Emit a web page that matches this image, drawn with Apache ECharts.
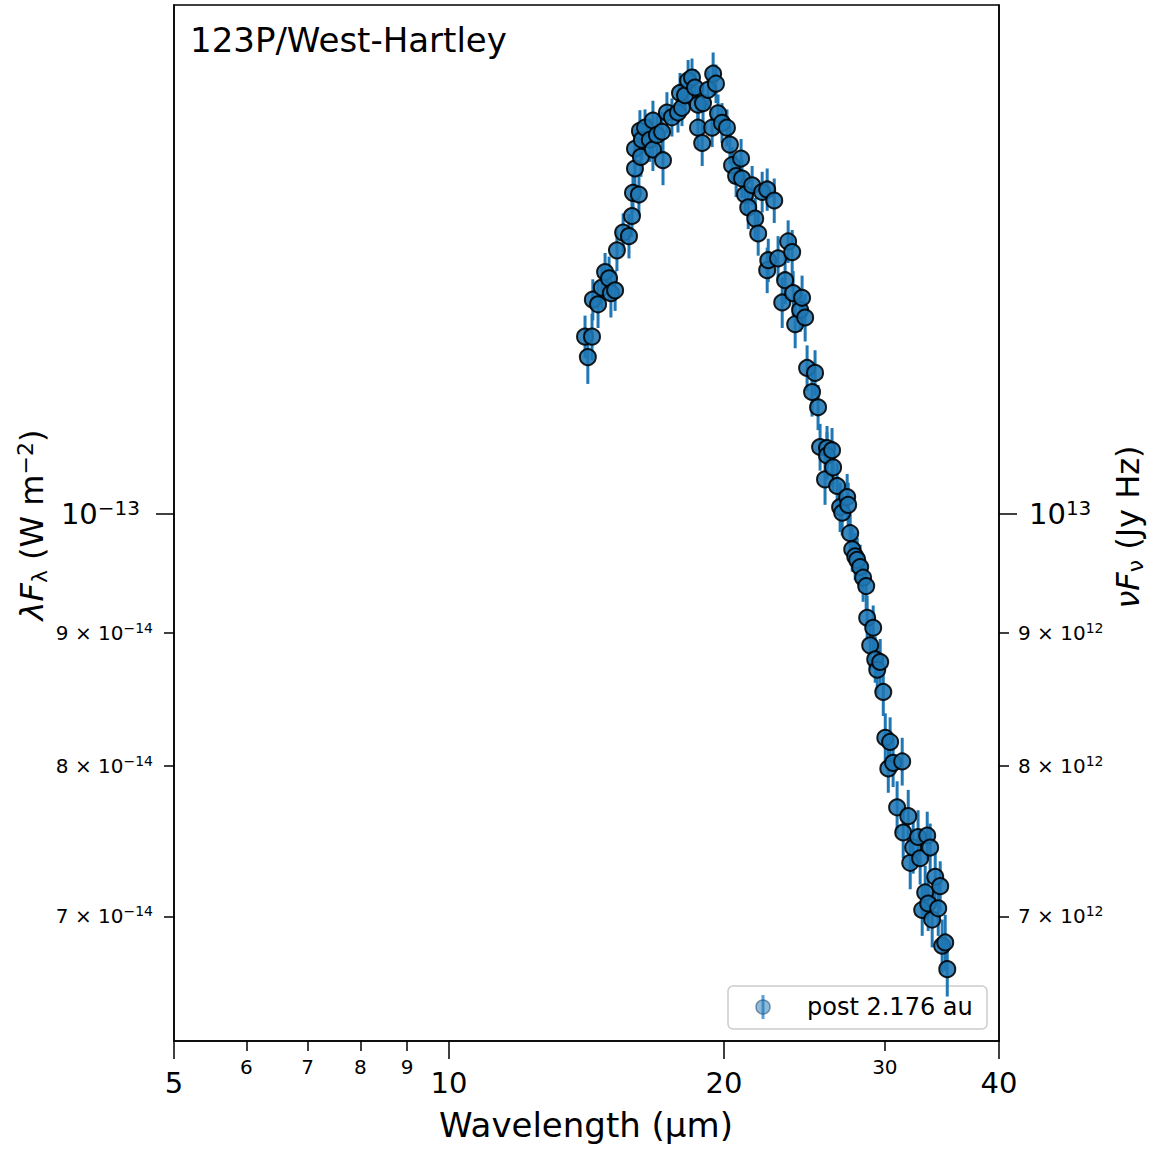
<!DOCTYPE html>
<html><head><meta charset="utf-8">
<script src="https://cdn.jsdelivr.net/npm/echarts@6/dist/echarts.min.js"></script>
<style>html,body{margin:0;padding:0;background:#fff}#c{width:1154px;height:1150px}</style>
</head><body><div id="c"></div>
<script>
// ---- data ----
const titleText = '123P/West-Hartley';
const seriesName = 'post 2.176 au';
const FLUX_UNIT = 1e-14; // flux values below are in units of 1e-14 W m^-2
const wavelength = [14.09,14.34,14.19,14.37,14.56,14.70,14.82,14.97,15.04,15.20,15.27,15.51,15.74,15.86,15.90,15.98,15.98,16.14,16.18,16.22,16.26,16.39,16.59,16.72,16.72,16.89,17.11,17.15,17.32,17.54,17.81,17.99,17.90,18.13,18.27,18.45,18.59,18.73,18.73,18.93,18.97,19.21,19.41,19.46,19.60,19.70,19.90,20.15,20.30,20.41,20.62,20.88,20.93,21.09,21.26,21.47,21.64,21.80,22.02,22.30,22.70,22.30,22.36,22.92,23.33,23.51,23.75,23.16,23.81,23.93,24.23,24.35,24.54,24.66,24.97,25.16,25.35,25.48,25.80,25.93,25.93,26.26,26.33,26.60,26.80,26.94,27.28,27.35,27.49,27.63,27.84,27.98,28.19,28.40,28.62,28.69,28.91,29.13,29.28,29.43,29.65,29.88,30.03,30.26,30.40,30.63,30.94,31.34,31.42,31.82,31.98,32.22,32.62,32.79,32.96,33.21,33.38,33.46,33.63,33.80,34.06,34.32,34.49,34.66,34.93,35.11];
const flux = [11.70,11.70,11.49,12.09,12.04,12.22,12.39,12.32,12.16,12.19,12.63,12.83,12.79,13.02,13.29,13.58,13.82,13.27,14.04,13.72,13.93,14.08,13.93,14.17,13.81,13.99,14.03,13.68,14.27,14.21,14.27,14.33,14.52,14.49,14.68,14.72,14.59,14.37,14.08,13.89,14.39,14.56,14.08,14.77,14.64,14.26,14.14,14.08,13.87,13.62,13.49,13.70,13.46,13.27,13.12,13.38,12.99,12.82,13.30,13.33,13.20,12.41,12.52,12.54,12.30,12.73,12.61,12.06,12.16,11.83,11.98,12.11,11.90,11.38,11.14,11.33,10.99,10.61,10.31,10.60,10.53,10.58,10.42,10.25,10.06,10.01,10.15,10.08,9.83,9.69,9.63,9.60,9.54,9.45,9.38,9.12,8.90,9.04,8.79,8.71,8.77,8.54,8.20,7.98,8.17,8.02,7.71,8.03,7.54,7.65,7.34,7.44,7.51,7.37,7.04,7.15,7.52,7.08,7.44,6.98,7.25,7.05,7.19,6.82,6.84,6.68];
const fluxErr = [0.22,0.24,0.27,0.22,0.25,0.23,0.21,0.24,0.26,0.22,0.23,0.22,0.25,0.24,0.23,0.26,0.24,0.25,0.26,0.24,0.25,0.23,0.27,0.25,0.26,0.24,0.25,0.30,0.26,0.24,0.25,0.23,0.26,0.24,0.27,0.25,0.24,0.25,0.26,0.28,0.24,0.25,0.24,0.28,0.25,0.24,0.25,0.23,0.24,0.22,0.25,0.24,0.23,0.24,0.25,0.23,0.24,0.25,0.24,0.25,0.26,0.25,0.24,0.25,0.26,0.24,0.25,0.27,0.24,0.25,0.23,0.24,0.25,0.23,0.24,0.23,0.22,0.22,0.23,0.21,0.22,0.21,0.22,0.21,0.22,0.20,0.21,0.20,0.20,0.19,0.20,0.19,0.19,0.20,0.19,0.18,0.19,0.18,0.18,0.19,0.18,0.18,0.18,0.17,0.18,0.17,0.18,0.17,0.17,0.18,0.17,0.17,0.18,0.17,0.16,0.17,0.16,0.17,0.16,0.17,0.16,0.17,0.16,0.16,0.17,0.16];
const xMajorTicks = [5, 10, 20, 40];
const xMinorTicks = [6, 7, 8, 9, 30];
const yMajorTicks = [1e-13];
const yMinorTicks = [7e-14, 8e-14, 9e-14];
const xRange = [5, 40];
const yRange = [6.268e-14, 1.5697e-13];
const WM2_TO_JYHZ = 1e26;

// ---- chart ----
const FONT = '"DejaVu Sans", sans-serif';
const chart = echarts.init(document.getElementById('c'), null, {renderer: 'svg'});

const points = wavelength.map((w, i) => [w, flux[i] * FLUX_UNIT, fluxErr[i] * FLUX_UNIT]);

function sciLabel(v, factor, major) {
  let val = v * factor;
  let exp = Math.floor(Math.log10(val) + 1e-6);
  let m = Math.round(val / Math.pow(10, exp));
  const es = (exp < 0 ? '\u2212' : '') + Math.abs(exp);
  if (major) return '{b|10}{e|' + es + '}';
  return '{m|' + m + ' \u00d7 10}{s|' + es + '}';
}
const richStyles = {
  b: {fontSize: 29, fontFamily: FONT, color: '#000', lineHeight: 32},
  e: {fontSize: 20, fontFamily: FONT, color: '#000', lineHeight: 20, verticalAlign: 'top'},
  m: {fontSize: 20, fontFamily: FONT, color: '#000', lineHeight: 24},
  s: {fontSize: 14, fontFamily: FONT, color: '#000', lineHeight: 14, verticalAlign: 'top'}
};
const axisLineStyle = {color: '#000', width: 1.5};

function xAxisDef(ticks, major) {
  return {
    type: 'log', logBase: 10, min: xRange[0], max: xRange[1], gridIndex: 0, position: 'bottom',
    axisLine: {show: major, lineStyle: axisLineStyle},
    axisTick: {show: true, customValues: ticks, length: major ? 18 : 10, lineStyle: {color: '#000', width: 1.5}},
    axisLabel: {show: true, customValues: ticks, fontSize: major ? 29 : 20, fontFamily: FONT, color: '#000',
      margin: major ? 27 : 16,
      formatter: v => String(Math.round(v))},
    splitLine: {show: false}, minorTick: {show: false}, minorSplitLine: {show: false}
  };
}
function yAxisDef(ticks, major, side) {
  const factor = side === 'right' ? WM2_TO_JYHZ : 1;
  let margin;
  if (side === 'left') margin = major ? 34 : 21; else margin = major ? 30 : 19;
  return {
    type: 'log', logBase: 10, min: yRange[0], max: yRange[1], gridIndex: 0, position: side,
    axisLine: {show: major, lineStyle: axisLineStyle},
    axisTick: {show: true, customValues: ticks, length: major ? 18 : 10, lineStyle: {color: '#000', width: 1.5}},
    axisLabel: {show: true, customValues: ticks, margin: margin,
      formatter: v => sciLabel(v, factor, major), rich: richStyles},
    splitLine: {show: false}, minorTick: {show: false}, minorSplitLine: {show: false}
  };
}

const option = {
  backgroundColor: '#fff',
  animation: false,
  grid: {left: 174, top: 5, width: 825, height: 1036, show: true, borderColor: '#000', borderWidth: 1.5,
    containLabel: false, outerBoundsMode: 'none'},
  xAxis: [xAxisDef(xMajorTicks, true), xAxisDef(xMinorTicks, false)],
  yAxis: [yAxisDef(yMajorTicks, true, 'left'), yAxisDef(yMinorTicks, false, 'left'),
          yAxisDef(yMajorTicks, true, 'right'), yAxisDef(yMinorTicks, false, 'right')],
  series: [
    {
      type: 'custom', name: seriesName + ' error', xAxisIndex: 0, yAxisIndex: 0, data: points,
      encode: {x: 0, y: 1}, z: 2, clip: true, silent: true,
      renderItem: function (params, api) {
        const x = api.value(0), y = api.value(1), e = api.value(2);
        const p1 = api.coord([x, y - e]);
        const p2 = api.coord([x, y + e]);
        return {type: 'line', shape: {x1: p1[0], y1: p1[1], x2: p2[0], y2: p2[1]},
          style: {stroke: '#1f77b4', lineWidth: 3}};
      }
    },
    {
      type: 'scatter', name: seriesName, xAxisIndex: 0, yAxisIndex: 0, z: 3,
      data: points.map(p => [p[0], p[1]]),
      symbol: 'circle', symbolSize: 16,
      itemStyle: {color: '#1f77b4', borderColor: '#000', borderWidth: 2, opacity: 0.88}
    }
  ],
  graphic: [
    {type: 'text', left: 190, top: 23, style: {text: titleText, font: '34px ' + FONT, fill: '#000'}},
    {type: 'text', x: 586, y: 1125, style: {text: 'Wavelength (\u00b5m)', font: '34px ' + FONT, fill: '#000', textAlign: 'center', textVerticalAlign: 'middle'}},
    {type: 'text', x: 32, y: 525, rotation: Math.PI / 2,
      style: {text: '{i|\u03bbF}{sub|\u03bb}{a| (W m}{sup|\u22122}{a|)}', textAlign: 'center', textVerticalAlign: 'middle', fill: '#000',
        rich: {a: {fontSize: 32, fontFamily: FONT, lineHeight: 36},
               i: {fontSize: 32, fontFamily: FONT, fontStyle: 'italic', lineHeight: 36},
               sub: {fontSize: 22, fontFamily: FONT, lineHeight: 22, verticalAlign: 'bottom'},
               sup: {fontSize: 22, fontFamily: FONT, lineHeight: 22, verticalAlign: 'top'}}}},
    {type: 'text', x: 1128, y: 527, rotation: Math.PI / 2,
      style: {text: '{i|\u03bdF}{sub|\u03bd}{a| (Jy Hz)}', textAlign: 'center', textVerticalAlign: 'middle', fill: '#000',
        rich: {a: {fontSize: 32, fontFamily: FONT, lineHeight: 36},
               i: {fontSize: 32, fontFamily: FONT, fontStyle: 'italic', lineHeight: 36},
               sub: {fontSize: 22, fontFamily: FONT, lineHeight: 22, verticalAlign: 'bottom'}}}},
    {type: 'group', children: [
      {type: 'rect', shape: {x: 728, y: 986, width: 259, height: 43, r: 5},
        style: {fill: 'rgba(255,255,255,0.8)', stroke: '#cccccc', lineWidth: 1.5}},
      {type: 'line', shape: {x1: 763, y1: 995, x2: 763, y2: 1019}, style: {stroke: '#5b9fd6', lineWidth: 3}},
      {type: 'circle', shape: {cx: 763, cy: 1007, r: 7}, style: {fill: 'rgba(31,119,180,0.5)', stroke: 'rgba(40,80,120,0.6)', lineWidth: 1.5}},
      {type: 'text', x: 807, y: 1007, style: {text: seriesName, font: '24px ' + FONT, fill: '#000', textVerticalAlign: 'middle'}}
    ]}
  ]
};
chart.setOption(option);
</script>
</body></html>
